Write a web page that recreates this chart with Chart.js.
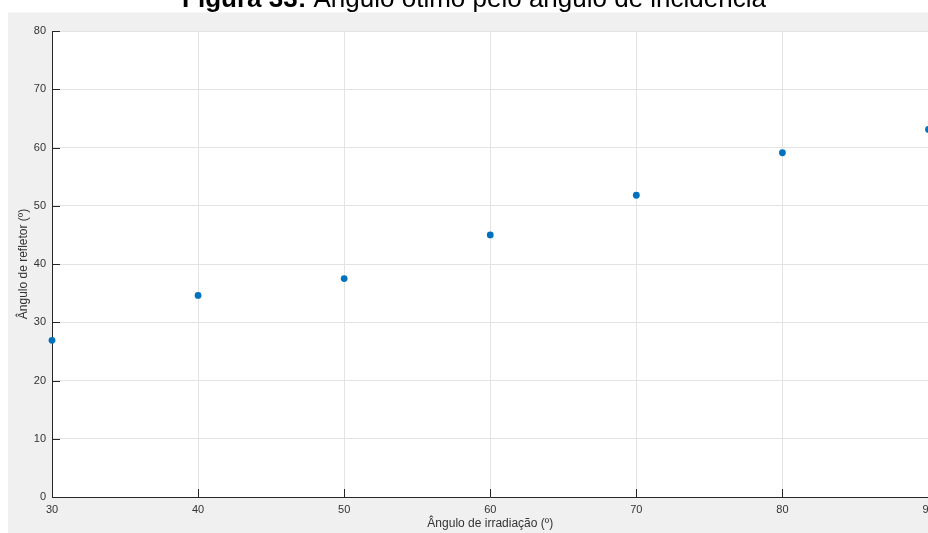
<!DOCTYPE html>
<html>
<head>
<meta charset="utf-8">
<script src="https://cdn.jsdelivr.net/npm/chart.js@4.4.1/dist/chart.umd.min.js"></script>
<style>
  html, body { margin: 0; padding: 0; width: 928px; height: 533px; overflow: hidden; background: #fff; }
  canvas { display: block; }
</style>
</head>
<body>
<canvas id="grafico" width="960" height="533"></canvas>
<script>
// Ângulo de irradiação (º) and the corresponding optimal reflector angle (º)
const irradiacao = [30, 40, 50, 60, 70, 80, 90];
const refletor = [26.9, 34.6, 37.5, 45.0, 51.8, 59.1, 63.1];

const tituloNegrito = 'Figura 33:';
const tituloTexto = ' Ângulo ótimo pelo ângulo de incidência';
const rotuloX = 'Ângulo de irradiação (º)';
const rotuloY = 'Ângulo de refletor (º)';

const FONTE = "'Liberation Sans', Arial, sans-serif";
const COR_EIXO = '#262626';

// Figure background, caption and white axes area
const fundo = {
  id: 'fundo',
  beforeDraw(chart) {
    const { ctx, chartArea: a } = chart;
    ctx.save();
    ctx.fillStyle = '#ffffff';
    ctx.fillRect(0, 0, chart.width, chart.height);

    ctx.fillStyle = '#000000';
    ctx.textBaseline = 'alphabetic';
    ctx.font = 'bold 26px ' + FONTE;
    const w1 = ctx.measureText(tituloNegrito).width;
    ctx.font = '26px ' + FONTE;
    const w2 = ctx.measureText(tituloTexto).width;
    const x0 = 474 - (w1 + w2) / 2;
    ctx.font = 'bold 26px ' + FONTE;
    ctx.textAlign = 'left';
    ctx.fillText(tituloNegrito, x0, 7);
    ctx.font = '26px ' + FONTE;
    ctx.fillText(tituloTexto, x0 + w1, 7);

    ctx.fillStyle = '#f0f0f0';
    ctx.fillRect(8, 12.5, chart.width - 8, chart.height - 12.5);
    ctx.fillStyle = '#ffffff';
    ctx.fillRect(a.left, a.top, a.right - a.left, a.bottom - a.top);
    ctx.restore();
  }
};

// Tick marks pointing into the axes
const marcasInternas = {
  id: 'marcasInternas',
  afterDatasetsDraw(chart) {
    const { ctx, chartArea: a, scales: { x, y } } = chart;
    ctx.save();
    ctx.strokeStyle = COR_EIXO;
    ctx.lineWidth = 1;
    ctx.beginPath();
    x.ticks.forEach(t => {
      const px = Math.round(x.getPixelForValue(t.value)) + 0.5;
      ctx.moveTo(px, a.bottom);
      ctx.lineTo(px, a.bottom - 8);
    });
    y.ticks.forEach(t => {
      const py = Math.round(y.getPixelForValue(t.value)) + 0.5;
      ctx.moveTo(a.left, py);
      ctx.lineTo(a.left + 8, py);
    });
    ctx.stroke();
    ctx.restore();
  }
};

new Chart(document.getElementById('grafico'), {
  type: 'scatter',
  data: {
    datasets: [{
      data: irradiacao.map((v, i) => ({ x: v, y: refletor[i] })),
      backgroundColor: '#0072BD',
      borderWidth: 0,
      pointRadius: 3.4,
      clip: false
    }]
  },
  options: {
    responsive: false,
    animation: false,
    devicePixelRatio: 1,
    layout: { padding: { left: 0, top: 31, right: 31.5, bottom: 0 } },
    plugins: { legend: { display: false }, tooltip: { enabled: false } },
    scales: {
      x: {
        type: 'linear',
        min: 30, max: 90,
        afterFit(s) { s.height = 36; },
        ticks: { stepSize: 10, padding: 6, color: '#333', font: { family: FONTE, size: 11 } },
        grid: { color: '#e3e3e3', drawTicks: false },
        border: { display: true, color: COR_EIXO, width: 1 },
        title: { display: true, text: rotuloX, color: '#333', font: { family: FONTE, size: 12 }, padding: { top: 0, bottom: 2 } }
      },
      y: {
        type: 'linear',
        min: 0, max: 80,
        afterFit(s) { s.width = 52; },
        ticks: { stepSize: 10, padding: 6, color: '#333', font: { family: FONTE, size: 11 } },
        grid: { color: '#e3e3e3', drawTicks: false },
        border: { display: true, color: COR_EIXO, width: 1 },
        title: { display: true, text: rotuloY, color: '#333', font: { family: FONTE, size: 12 }, padding: { top: 16, bottom: 0 } }
      }
    }
  },
  plugins: [fundo, marcasInternas]
});
</script>
</body>
</html>
